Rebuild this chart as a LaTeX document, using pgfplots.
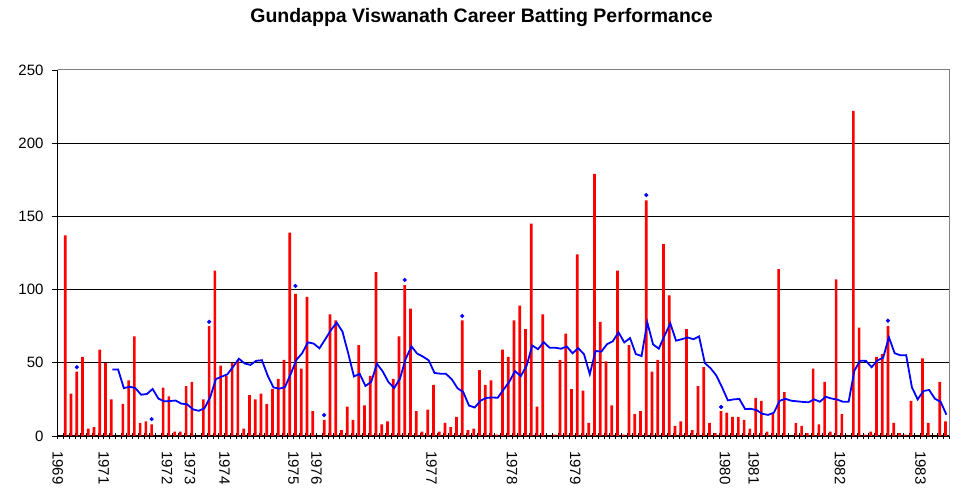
\documentclass[border=0pt]{standalone}
\usepackage{pgfplots}
\pgfplotsset{compat=1.18}
\usepackage{fontspec}
\setmainfont{Liberation Sans}
\definecolor{xred}{RGB}{255,0,0}
\definecolor{xblue}{RGB}{0,0,255}
\definecolor{xgray}{RGB}{128,128,128}
\begin{document}
\begin{tikzpicture}
\useasboundingbox (-57.7pt,-56pt) rectangle (905.3pt,436pt);
\node[anchor=base, font=\fontsize{19.5}{23}\selectfont\bfseries] at (423.8pt,413.5pt) {Gundappa Viswanath Career Batting Performance};
\begin{axis}[
  at={(0pt,0pt)}, anchor=south west,
  scale only axis, width=891.6pt, height=366pt,
  xmin=-0.5, xmax=154.5, ymin=0, ymax=250,
  enlargelimits=false,
  axis lines=left,
  axis line style={-, black, line width=1.1pt},
  /pgf/number format/assume math mode=true,
  ytick={0,50,100,150,200,250},
  ymajorgrids, major grid style={black, line width=1pt},
  xtick={-0.5,7.5,18.5,22.5,28.5,40.5,44.5,64.5,78.5,89.5,115.5,120.5,135.5,149.5},
  xticklabels={1969,1971,1972,1973,1974,1975,1976,1977,1978,1979,1980,1981,1982,1983},
  minor xtick={-0.5,0.5,...,154.5},
  xtick align=center, ytick align=outside,
  major tick length=6pt, minor tick length=6pt,
  every tick/.style={black, line width=0.9pt},
  minor tick style={black, line width=0.9pt},
  tick style={black, line width=0.9pt},
  ticklabel style={font=\fontsize{15}{17}\selectfont},
  xticklabel style={rotate=-90, anchor=west, inner sep=0pt},
  xticklabel shift=12pt,
  yticklabel style={inner sep=0pt},
  yticklabel shift=8pt,
  clip=false,
]
\addplot[ybar, bar width=2.7pt, bar shift=-1pt, fill=xred, draw=none] coordinates {
(0,0)(1,137)(2,29)(3,44)(4,54)(5,5)(6,6)(7,59)(8,50)(9,25)
(10,0)(11,22)(12,38)(13,68)(14,9)(15,10)(16,8)(17,0)(18,33)(19,27)
(20,3)(21,3)(22,34)(23,37)(24,0)(25,25)(26,75)(27,113)(28,48)(29,41)
(30,50)(31,52)(32,5)(33,28)(34,25)(35,29)(36,22)(37,32)(38,39)(39,52)
(40,139)(41,97)(42,46)(43,95)(44,17)(45,0)(46,11)(47,83)(48,79)(49,4)
(50,20)(51,11)(52,62)(53,21)(54,41)(55,112)(56,8)(57,10)(58,39)(59,68)
(60,103)(61,87)(62,17)(63,3)(64,18)(65,35)(66,3)(67,9)(68,6)(69,13)
(70,79)(71,4)(72,5)(73,45)(74,35)(75,38)(76,1)(77,59)(78,54)(79,79)
(80,89)(81,73)(82,145)(83,20)(84,83)(85,0)(86,1)(87,52)(88,70)(89,32)
(90,124)(91,31)(92,9)(93,179)(94,78)(95,51)(96,21)(97,113)(98,1)(99,62)
(100,15)(101,17)(102,161)(103,44)(104,52)(105,131)(106,96)(107,7)(108,10)(109,73)
(110,4)(111,34)(112,47)(113,9)(114,2)(115,17)(116,16)(117,13)(118,13)(119,11)
(120,5)(121,26)(122,24)(123,3)(124,15)(125,114)(126,30)(127,0)(128,9)(129,7)
(130,2)(131,46)(132,8)(133,37)(134,3)(135,107)(136,15)(137,0)(138,222)(139,74)
(140,1)(141,3)(142,54)(143,56)(144,75)(145,9)(146,2)(147,1)(148,24)(149,0)
(150,53)(151,9)(152,0)(153,37)(154,10)
};
\addplot[xblue, line width=1.8pt, mark=none] coordinates {
(9,45.44)(10,45.44)(11,32.67)(12,33.67)(13,32.7)(14,28.2)(15,28.7)(16,32.11)(17,25.56)(18,23.67)(19,23.89)
(20,24.22)(21,22.11)(22,21.67)(23,18.22)(24,17.22)(25,18.89)(26,26.33)(27,38.89)(28,40.56)(29,42.11)
(30,47.33)(31,52.78)(32,49.56)(33,48.56)(34,51.33)(35,51.78)(36,41.3)(37,33.2)(38,32.3)(39,33.4)
(40,42.3)(41,52.0)(42,56.56)(43,64.0)(44,63.11)(45,59.89)(46,66.0)(47,72.38)(48,77.38)(49,71.38)
(50,56.5)(51,40.67)(52,42.44)(53,34.22)(54,36.89)(55,49.33)(56,44.1)(57,36.8)(58,32.8)(59,39.2)
(60,52.78)(61,61.22)(62,56.22)(63,54.22)(64,51.67)(65,43.11)(66,42.56)(67,42.44)(68,38.78)(69,32.67)
(70,30.0)(71,20.78)(72,19.44)(73,24.11)(74,26.0)(75,26.33)(76,26.11)(77,31.67)(78,37.0)(79,44.33)
(80,40.9)(81,47.8)(82,61.8)(83,59.3)(84,64.1)(85,60.3)(86,60.3)(87,59.6)(88,61.2)(89,56.5)
(90,60.0)(91,55.8)(92,42.2)(93,58.1)(94,57.6)(95,62.7)(96,64.7)(97,70.8)(98,63.9)(99,66.9)
(100,56.0)(101,54.6)(102,77.56)(103,62.56)(104,59.67)(105,68.56)(106,76.89)(107,65.11)(108,66.11)(109,67.33)
(110,66.11)(111,68.0)(112,49.8)(113,46.3)(114,41.3)(115,33.22)(116,24.33)(117,25.0)(118,25.33)(119,18.44)
(120,18.56)(121,17.67)(122,15.11)(123,14.44)(124,15.89)(125,24.0)(126,25.4)(127,24.1)(128,23.7)(129,23.3)
(130,23.0)(131,25.0)(132,23.4)(133,26.8)(134,25.6)(135,24.9)(136,23.4)(137,23.4)(138,44.7)(139,51.4)
(140,51.3)(141,47.0)(142,51.6)(143,53.5)(144,67.44)(145,56.56)(146,55.11)(147,55.22)(148,33.22)(149,25.0)
(150,30.78)(151,31.44)(152,25.44)(153,23.33)(154,14.5)
};
\addplot[only marks, mark=*, mark size=1.9pt, xblue] coordinates {
(2.83,47)(15.83,11.5)(25.83,78)(40.83,102.5)(45.83,14.3)(59.83,106.6)(69.83,82)(101.83,164.6)(114.83,19.8)(143.83,78.8)
};
\draw[xgray, line width=1pt] (rel axis cs:0,1) -- (rel axis cs:1,1) -- (rel axis cs:1,0);
\end{axis}
\end{tikzpicture}
\end{document}
